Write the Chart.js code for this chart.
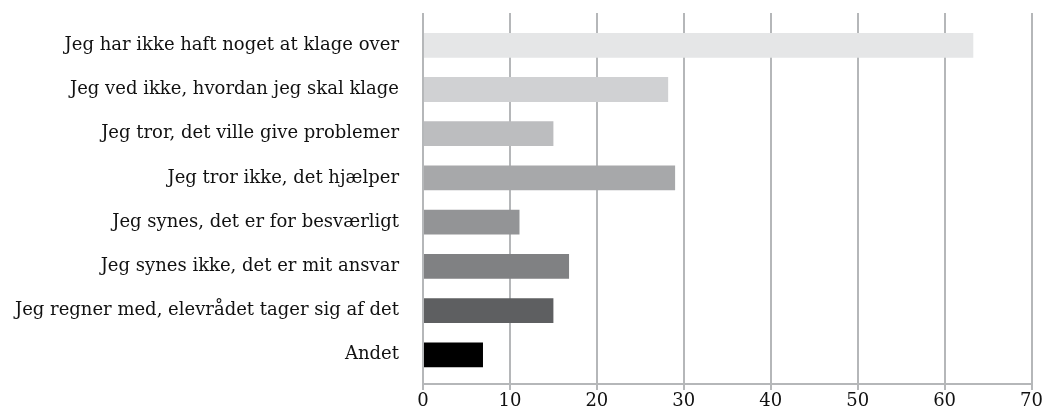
<!DOCTYPE html>
<html>
<head>
<meta charset="utf-8">
<script src="https://cdn.jsdelivr.net/npm/chart.js@4/dist/chart.umd.min.js"></script>
<style>
  html, body { margin: 0; padding: 0; background: #fff; }
  #wrap { width: 1045px; height: 412px; position: relative; }
</style>
</head>
<body>
<div id="wrap"><canvas id="chart"></canvas></div>
<script>
// Horizontal bar chart: reasons for not complaining

const categories = [
  'Jeg har ikke haft noget at klage over',
  'Jeg ved ikke, hvordan jeg skal klage',
  'Jeg tror, det ville give problemer',
  'Jeg tror ikke, det hjælper',
  'Jeg synes, det er for besværligt',
  'Jeg synes ikke, det er mit ansvar',
  'Jeg regner med, elevrådet tager sig af det',
  'Andet'
];
const values = [63.3, 28.2, 15.0, 29.0, 11.1, 16.8, 15.0, 6.9];
const barColors = ['#e5e6e7', '#d0d1d3', '#bcbdbf', '#a7a8aa', '#939496', '#808183', '#5e5f61', '#000000'];
const xTicks = [0, 10, 20, 30, 40, 50, 60, 70];

const gridGray = '#b5b7b9';
const font = { family: '"DejaVu Serif", serif', size: 18 };

new Chart(document.getElementById('chart').getContext('2d'), {
  type: 'bar',
  data: {
    labels: categories,
    datasets: [{
      data: values,
      backgroundColor: barColors,
      borderWidth: 0,
      categoryPercentage: 0.8,
      barPercentage: 0.7
    }]
  },
  options: {
    indexAxis: 'y',
    responsive: true,
    maintainAspectRatio: false,
    animation: false,
    layout: { padding: { top: 13, right: 6, bottom: 0, left: 0 } },
    plugins: {
      legend: { display: false },
      tooltip: { enabled: false }
    },
    scales: {
      x: {
        min: 0,
        max: 70,
        afterBuildTicks: (scale) => {
          scale.ticks = xTicks.map((v) => ({ value: v }));
        },
        grid: {
          color: gridGray,
          lineWidth: 2,
          tickLength: 6,
          drawTicks: true
        },
        border: { display: true, color: gridGray, width: 2 },
        ticks: { color: '#111', font: { ...font, lineHeight: 1 }, padding: 2 }
      },
      y: {
        afterFit: (scale) => {
          scale.width = 423;
          scale.paddingTop = 0;
          scale.paddingBottom = 0;
          // extra blank space above first and below last category
          scale._startValue = -0.73;
          scale._valueRange = categories.length - 1 + 0.73 + 0.66;
        },
        grid: { display: false },
        border: { display: false },
        ticks: { color: '#111', font: font, padding: 16 }
      }
    }
  }
});
</script>
</body>
</html>
